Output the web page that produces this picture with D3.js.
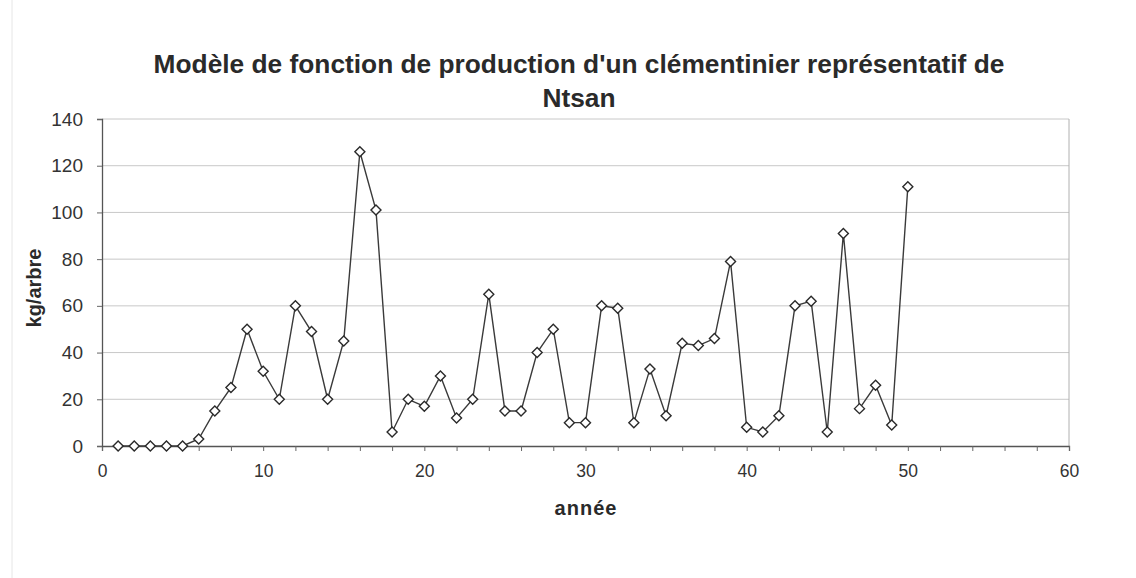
<!DOCTYPE html>
<html><head><meta charset="utf-8">
<script src="https://cdn.jsdelivr.net/npm/d3@7"></script>
<style>body{margin:0;background:#fff}svg{display:block}text{font-family:"Liberation Sans",Arial,sans-serif}</style>
</head><body>
<svg id="c" width="1136" height="578"></svg>
<script>
const years = d3.range(1, 51);
const production = [0,0,0,0,0,3,15,25,50,32,20,60,49,20,45,126,101,6,20,17,
  30,12,20,65,15,15,40,50,10,10,60,59,10,33,13,44,43,46,79,8,
  6,13,60,62,6,91,16,26,9,111];
const xTicks = [0,10,20,30,40,50,60];
const yTicks = [0,20,40,60,80,100,120,140];
const titleLines = ["Modèle de fonction de production d'un clémentinier représentatif de","Ntsan"];
const xLabel = "année", yLabel = "kg/arbre";

const svg = d3.select("#c");
const L=102, R=1069, T=119, B=446;
const x = d3.scaleLinear().domain([0,60]).range([L,R]);
const y = d3.scaleLinear().domain([0,140]).range([B,T]);

// scan edge
svg.append("line").attr("x1",12).attr("x2",12).attr("y1",0).attr("y2",578).attr("stroke","#e6e6e6");

// gridlines
svg.append("g").selectAll("line").data(yTicks.filter(d=>d>0)).join("line")
  .attr("x1",L).attr("x2",R).attr("y1",d=>y(d)).attr("y2",d=>y(d))
  .attr("stroke","#c8c8c8").attr("stroke-width",1);
// right border
svg.append("line").attr("x1",R).attr("x2",R).attr("y1",T).attr("y2",B).attr("stroke","#b0b0b0");

// axes
const gx = svg.append("g").attr("transform",`translate(0,${B})`)
  .call(d3.axisBottom(x).tickValues(d3.range(0,61,2)).tickSize(5).tickFormat(d=>xTicks.includes(d)?d:""));
const gy = svg.append("g").attr("transform",`translate(${L},0)`)
  .call(d3.axisLeft(y).tickValues(yTicks).tickSize(5));
[gx,gy].forEach(g=>{
  g.select(".domain").attr("stroke","#555").attr("stroke-width",1.3);
  g.selectAll(".tick line").attr("stroke","#666");
  g.selectAll("text").attr("fill","#333");
});
gx.selectAll("text").style("font-size","17.5px").attr("dy","1.3em");
gy.selectAll("text").style("font-size","19px").attr("x",-19);

// line
svg.append("path").datum(years.map((d,i)=>[d,production[i]]))
  .attr("fill","none").attr("stroke","#3a3a3a").attr("stroke-width",1.4)
  .attr("d",d3.line().x(d=>x(d[0])).y(d=>y(d[1])));
// markers
svg.append("g").selectAll("path").data(years.map((d,i)=>[d,production[i]])).join("path")
  .attr("transform",d=>`translate(${x(d[0])},${y(d[1])})`)
  .attr("d","M0,-5L5,0L0,5L-5,0Z")
  .attr("fill","#fff").attr("stroke","#2a2a2a").attr("stroke-width",1.4);

// title
svg.append("g").selectAll("text").data(titleLines).join("text")
  .attr("x",579).attr("y",(d,i)=>73+i*34).attr("text-anchor","middle")
  .attr("fill","#2a2a2a").style("font-size","26.3px").style("font-weight","bold").text(d=>d);
svg.append("text").attr("x",586).attr("y",515).attr("text-anchor","middle")
  .attr("fill","#2a2a2a").style("font-size","20px").style("font-weight","bold").style("letter-spacing","1px").text(xLabel);
svg.append("text").attr("transform","translate(41,288) rotate(-90)").attr("text-anchor","middle")
  .attr("fill","#2a2a2a").style("font-size","20px").style("font-weight","bold").text(yLabel);
</script>
</body></html>
